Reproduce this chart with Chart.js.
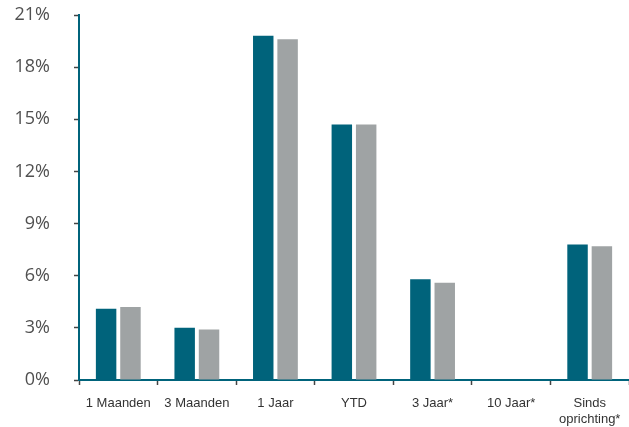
<!DOCTYPE html>
<html>
<head>
<meta charset="utf-8">
<script src="https://cdn.jsdelivr.net/npm/chart.js"></script>
<style>
    html, body { margin: 0; padding: 0; background: #ffffff; }
    #wrap { width: 629px; height: 427px; }
</style>
</head>
<body>
<div id="wrap"><canvas id="perfChart" width="629" height="427"></canvas></div>
<script>
// rendementen per periode (in %)
var periods = ['1 Maanden', '3 Maanden', '1 Jaar', 'YTD', '3 Jaar*', '10 Jaar*', ['Sinds', 'oprichting*']];
var fundValues = [4.1, 3.0, 19.8, 14.7, 5.8, null, 7.8];
var benchValues = [4.2, 2.9, 19.6, 14.7, 5.6, null, 7.7];
var yTicks = [0, 3, 6, 9, 12, 15, 18, 21];

var teal = '#00637b';
var grey = '#9fa3a4';

var ctx = document.getElementById('perfChart');
new Chart(ctx, {
    type: 'bar',
    data: {
        labels: periods,
        datasets: [{
            label: 'Fonds',
            data: fundValues,
            backgroundColor: teal,
            borderWidth: 0
        }, {
            label: 'Benchmark',
            data: benchValues,
            backgroundColor: grey,
            borderWidth: 0
        }]
    },
    options: {
        responsive: false,
        animation: false,
        categoryPercentage: 0.62,
        barPercentage: 0.84,
        layout: { padding: { top: 15, right: -1, left: 0, bottom: 0 } },
        plugins: {
            legend: { display: false },
            tooltip: { enabled: false }
        },
        scales: {
            x: {
                grid: {
                    drawOnChartArea: false,
                    drawTicks: true,
                    tickLength: 5,
                    tickColor: '#444',
                    tickWidth: 1.5,
                    offset: true
                },
                border: { color: teal, width: 2 },
                ticks: {
                    color: '#333',
                    font: { family: 'Liberation Sans', size: 13 },
                    padding: 11,
                    maxRotation: 0,
                    autoSkip: false
                },
                afterFit: function(scale) {
                    scale.height = 47;
                    scale.paddingLeft = 0;
                    scale.paddingRight = 0;
                }
            },
            y: {
                min: 0,
                max: 21,
                afterBuildTicks: function(scale) {
                    scale.ticks = yTicks.map(function(v) { return { value: v }; });
                },
                grid: {
                    drawOnChartArea: false,
                    drawTicks: true,
                    tickLength: 5,
                    tickColor: '#444',
                    tickWidth: 1.5
                },
                border: { color: teal, width: 2 },
                ticks: {
                    color: '#505050',
                    font: { family: 'Open Sans', size: 18 },
                    padding: 24,
                    callback: function(v) { return v + '%'; }
                },
                afterFit: function(scale) {
                    scale.width = 79;
                    scale.paddingTop = 0;
                    scale.paddingBottom = 0;
                }
            }
        }
    }
});
</script>
</body>
</html>
